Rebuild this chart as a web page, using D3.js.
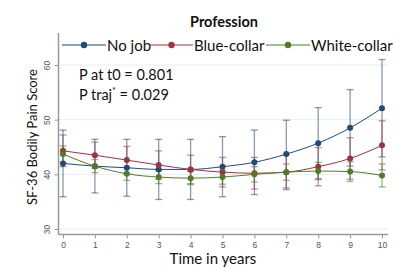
<!DOCTYPE html>
<html>
<head>
<meta charset="utf-8">
<script src="https://cdn.jsdelivr.net/npm/d3@7"></script>
<style>
  body { margin: 0; background: #fff; }
  svg { display: block; font-family: Lato, "Open Sans", sans-serif; }
</style>
</head>
<body>
<div id="chart"></div>
<script>
// Data
const years = [0, 1, 2, 3, 4, 5, 6, 7, 8, 9, 10];
const seriesNames = ["No job", "Blue-collar", "White-collar"];
const noJob = [42.0, 41.5, 41.2, 40.9, 40.9, 41.4, 42.2, 43.7, 45.7, 48.5, 52.1];
const noJobCI = [6.1, 4.9, 5.2, 5.5, 5.5, 5.5, 5.9, 6.2, 6.5, 7.0, 8.9];
const blueCollar = [44.3, 43.5, 42.6, 41.7, 40.9, 40.4, 40.2, 40.4, 41.4, 42.9, 45.3];
const blueCollarCI = [2.9, 2.4, 2.5, 2.6, 2.6, 2.7, 2.9, 3.2, 3.5, 3.8, 4.5];
const whiteCollar = [43.7, 41.5, 40.1, 39.5, 39.3, 39.5, 40.0, 40.4, 40.6, 40.5, 39.8];
const whiteCollarCI = [1.5, 1.2, 1.2, 1.2, 1.2, 1.3, 1.4, 1.5, 1.6, 1.8, 2.1];
const yTicks = [30, 40, 50, 60];
const annotations = ["P at t0 = 0.801", "P traj"];

const colours = ["#1f4b7a", "#a1323f", "#4f7c27"];

const width = 393, height = 267;

const svg = d3.select("#chart").append("svg")
  .attr("width", width).attr("height", height);

// Scales
const x = d3.scaleLinear().domain([0, 10]).range([63, 382]);
const y = d3.scaleLinear().domain([30, 60]).range([229, 65]);

// Grid lines
svg.append("g").selectAll("line").data(yTicks).enter().append("line")
  .attr("x1", 59).attr("x2", 388)
  .attr("y1", d => y(d)).attr("y2", d => y(d))
  .attr("stroke", "#e6eef2").attr("stroke-width", 1);

// Axes
const yAxis = svg.append("g").attr("transform", "translate(58.5,0)")
  .call(d3.axisLeft(y).tickValues(yTicks).tickSize(4));
yAxis.select(".domain").attr("d", "M0,33V234");
yAxis.selectAll(".tick text")
  .attr("transform", "rotate(-90)")
  .attr("x", 0).attr("y", -9).attr("dy", 0)
  .style("text-anchor", "middle");

const xAxis = svg.append("g").attr("transform", "translate(0,234.5)")
  .call(d3.axisBottom(x).tickValues(years).tickSize(4).tickPadding(3));
xAxis.select(".domain").attr("d", "M58,0H388");

svg.selectAll(".domain").attr("stroke", "#999").attr("stroke-width", 1.5);
svg.selectAll(".tick line").attr("stroke", "#999");
svg.selectAll(".tick text").attr("fill", "#555").style("font-size", "8.5px")
  .style("font-family", "'Liberation Sans', Arial, sans-serif");

// Series
const series = [
  { name: seriesNames[0], values: noJob, ci: noJobCI },
  { name: seriesNames[1], values: blueCollar, ci: blueCollarCI },
  { name: seriesNames[2], values: whiteCollar, ci: whiteCollarCI },
];

const line = d3.line().x((d, i) => x(years[i])).y(d => y(d)).curve(d3.curveMonotoneX);

// Error bars first, so lines and dots sit on top
series.forEach((s, si) => {
  const g = svg.append("g");
  const bars = g.selectAll("g.err").data(s.values).enter().append("g")
    .attr("stroke", colours[si]).attr("stroke-opacity", 0.55).attr("stroke-width", 1.3);
  bars.append("line")
    .attr("x1", (d, i) => x(years[i])).attr("x2", (d, i) => x(years[i]))
    .attr("y1", (d, i) => y(d - s.ci[i])).attr("y2", (d, i) => y(d + s.ci[i]));
  bars.append("line")
    .attr("x1", (d, i) => x(years[i]) - 3.5).attr("x2", (d, i) => x(years[i]) + 3.5)
    .attr("y1", (d, i) => y(d - s.ci[i])).attr("y2", (d, i) => y(d - s.ci[i]));
  bars.append("line")
    .attr("x1", (d, i) => x(years[i]) - 3.5).attr("x2", (d, i) => x(years[i]) + 3.5)
    .attr("y1", (d, i) => y(d + s.ci[i])).attr("y2", (d, i) => y(d + s.ci[i]));
});

series.forEach((s, si) => {
  svg.append("path").datum(s.values)
    .attr("d", line).attr("fill", "none")
    .attr("stroke", colours[si]).attr("stroke-width", 1);
  svg.append("g").selectAll("circle").data(s.values).enter().append("circle")
    .attr("cx", (d, i) => x(years[i])).attr("cy", d => y(d))
    .attr("r", 3).attr("fill", colours[si]);
});

// Legend
const legendItems = [
  { x0: 62, x1: 106, tx: 107 },
  { x0: 150, x1: 193, tx: 194 },
  { x0: 266, x1: 310, tx: 311 },
];
const legend = svg.append("g");
legendItems.forEach((li, i) => {
  legend.append("line").attr("x1", li.x0).attr("x2", li.x1)
    .attr("y1", 45).attr("y2", 45)
    .attr("stroke", colours[i]).attr("stroke-width", 1.2);
  legend.append("circle").attr("cx", (li.x0 + li.x1) / 2).attr("cy", 45)
    .attr("r", 3.2).attr("fill", colours[i]);
  legend.append("text").attr("x", li.tx).attr("y", 50.5)
    .style("font-size", "15px").attr("fill", "#111").text(seriesNames[i]);
});

// Title
svg.append("text").attr("x", 224).attr("y", 27)
  .attr("text-anchor", "middle").style("font-size", "14.5px").style("font-weight", "bold")
  .attr("fill", "#111").text("Profession");

// Annotations
svg.append("text").attr("x", 79).attr("y", 80)
  .style("font-size", "14.5px").attr("fill", "#111").text(annotations[0]);
const t2 = svg.append("text").attr("x", 79).attr("y", 100)
  .style("font-size", "14.5px").attr("fill", "#111");
t2.append("tspan").text(annotations[1]);
t2.append("tspan").attr("dy", -6).style("font-size", "9px").text("*");
t2.append("tspan").attr("dy", 6).text(" = 0.029");

// Axis titles
svg.append("text")
  .attr("transform", "translate(37,137) rotate(-90)")
  .attr("text-anchor", "middle").style("font-size", "13px").attr("fill", "#111")
  .text("SF-36 Bodily Pain Score");
svg.append("text").attr("x", 213).attr("y", 264)
  .attr("text-anchor", "middle").style("font-size", "15px").attr("fill", "#111")
  .text("Time in years");
</script>
</body>
</html>
